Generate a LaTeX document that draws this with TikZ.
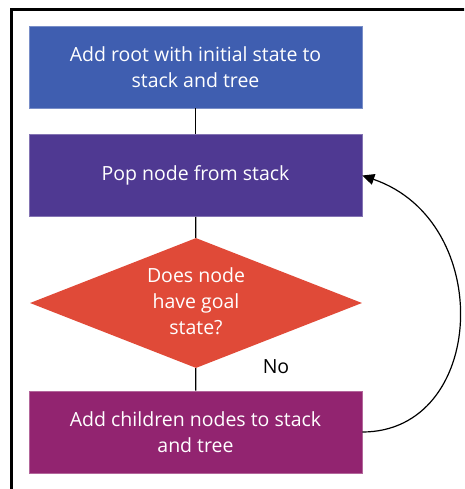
\documentclass[tikz,border=0pt]{standalone}
\usepackage{fontspec}
\setmainfont{Open Sans}
\usetikzlibrary{shapes.geometric,arrows.meta}
\definecolor{cblue}{RGB}{63,94,176}
\definecolor{cpurple}{RGB}{79,57,146}
\definecolor{cred}{RGB}{224,74,56}
\definecolor{cmag}{RGB}{146,36,112}
\tikzset{
  label text/.style={font=\fontsize{19.5}{26}\selectfont},
  stepbox/.style={rectangle, minimum width=333pt, minimum height=82pt, inner sep=0pt,
    text=white, align=center, label text, draw=#1!70!white, line width=0.6pt, fill=#1},
  decision/.style={diamond, aspect=2.55, minimum width=332pt, minimum height=130pt, inner sep=0pt,
    fill=cred},
  link/.style={line width=1.2pt, black},
}
\begin{document}
\begin{tikzpicture}[x=1pt,y=-1pt]
  \useasboundingbox (0,0) rectangle (464,489);
  \clip (0,0) rectangle (464,489);
  % outer frame, left and top edges
  \draw[line width=3pt] (11.5,495) -- (11.5,9.5) -- (470,9.5);

  \node[stepbox=cblue] (root) at (195.5,67) {Add root with initial state to\\stack and tree};
  \node[stepbox=cpurple] (pop) at (195.5,175.5) {Pop node from stack};
  \node[decision] (goal) at (196,303) {};
  \node[text=white, align=center, label text] (goaltext) at (196,301) {Does node\\have goal\\state?};
  \node[stepbox=cmag] (kids) at (195.5,432) {Add children nodes to stack\\and tree};

  \draw[link] (root) -- (pop);
  \draw[link] (pop) -- (goal);
  \draw[link] (goal) -- (kids);
  \node[label text] (no) at (276,367) {No};

  \draw[link, -{Triangle[length=12pt,width=11pt]}] (kids.east) .. controls +(124,0) and +(134,46) .. (pop.east);
\end{tikzpicture}
\end{document}
